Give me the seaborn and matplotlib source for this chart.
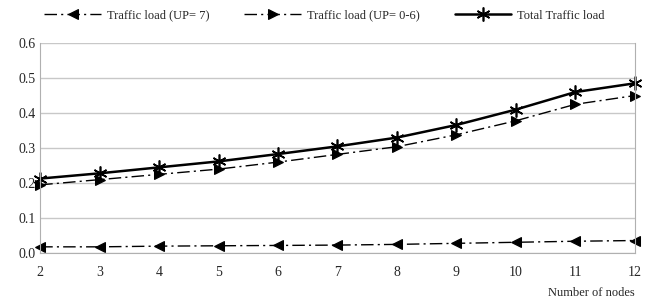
import numpy as np
import pandas as pd
import seaborn as sns
import matplotlib.pyplot as plt

nodes = [2, 3, 4, 5, 6, 7, 8, 9, 10, 11, 12]
load_up7 = [0.018, 0.018, 0.020, 0.021, 0.022, 0.023, 0.025, 0.028, 0.031, 0.034, 0.036]
load_up06 = [0.195, 0.210, 0.225, 0.240, 0.260, 0.282, 0.304, 0.338, 0.378, 0.425, 0.450]
load_total = [0.213, 0.228, 0.245, 0.262, 0.283, 0.305, 0.330, 0.366, 0.410, 0.460, 0.485]
labels = ["Traffic load (UP= 7)", "Traffic load (UP= 0-6)", "Total Traffic load"]

df = pd.DataFrame({"nodes": nodes, labels[0]: load_up7,
                   labels[1]: load_up06, labels[2]: load_total})

sns.set_style("white")
plt.rcParams['font.family'] = ['Liberation Serif', 'DejaVu Serif']

fig = plt.figure(figsize=(6.49, 3.01), dpi=100)
ax = fig.add_axes([0.062, 0.159, 0.916, 0.698])

dashdot = (0, (9, 3, 1.5, 3))
sns.lineplot(data=df, x="nodes", y=labels[0], ax=ax, color="black", lw=1.0,
             linestyle=dashdot, marker="<", markersize=6.5, markeredgecolor="black",
             label=labels[0], clip_on=False)
sns.lineplot(data=df, x="nodes", y=labels[1], ax=ax, color="black", lw=1.0,
             linestyle=dashdot, marker=">", markersize=6.5, markeredgecolor="black",
             label=labels[1], clip_on=False)
sns.lineplot(data=df, x="nodes", y=labels[2], ax=ax, color="black", lw=1.8,
             marker=(6, 2, 0), markersize=10, markeredgewidth=1.2,
             markeredgecolor="black", label=labels[2], clip_on=False)

ax.set_xlim(2, 12)
ax.set_ylim(0, 0.6)
ax.set_xticks(nodes)
ax.set_yticks(np.arange(0, 0.61, 0.1))
ax.yaxis.set_major_formatter(plt.FormatStrFormatter('%.1f'))
ax.yaxis.grid(True, color="#c8c8c8", lw=1)
ax.tick_params(axis="x", direction="out", length=5, color="#a0a0a0", labelsize=10, pad=4)
ax.tick_params(axis="y", length=0, labelsize=10)
for s in ["left", "right", "bottom"]:
    ax.spines[s].set_color("#b0b0b0")
ax.spines["top"].set_visible(False)
ax.set_ylabel("")
ax.set_xlabel("Number of nodes", fontsize=9)
ax.xaxis.set_label_coords(1.0, -0.16)
ax.xaxis.label.set_horizontalalignment("right")

handles, lbls = ax.get_legend_handles_labels()
ax.get_legend().remove()
fig.legend(handles, lbls, loc="center", bbox_to_anchor=(0.5, 0.948), ncol=3,
           frameon=False, fontsize=9, handlelength=4.5, columnspacing=2.8,
           handletextpad=0.5)

fig.savefig("out.png", dpi=100)
